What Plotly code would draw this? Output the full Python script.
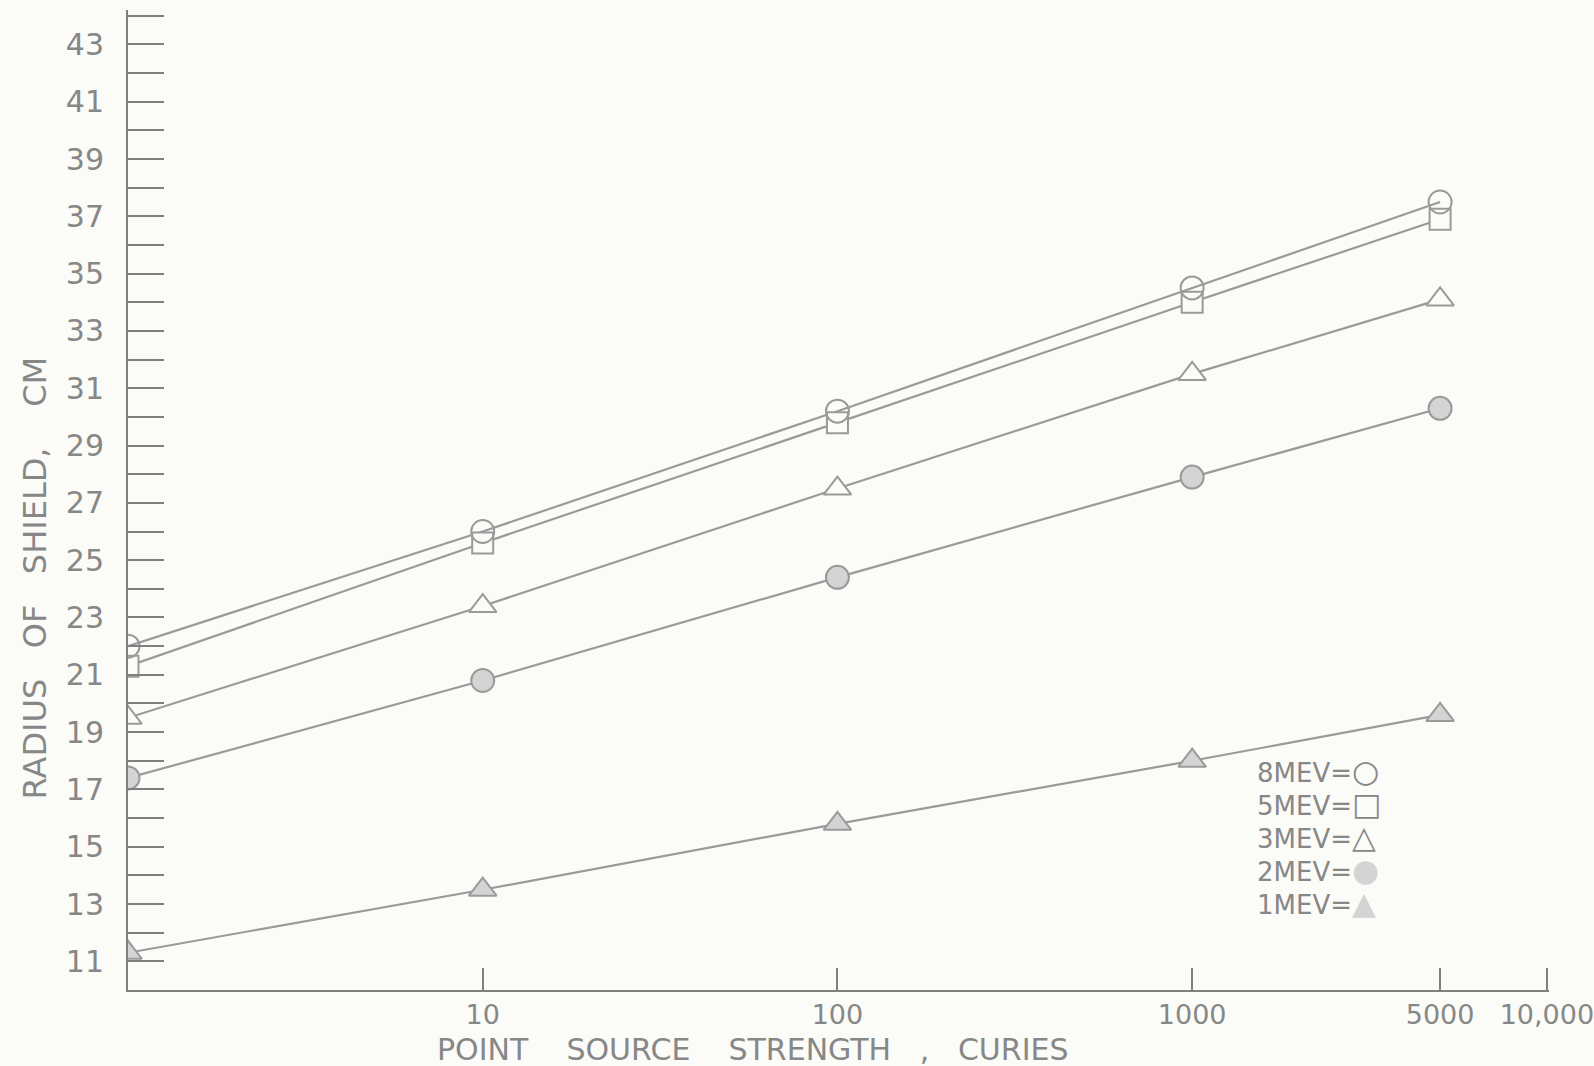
import plotly.graph_objects as go

# ---- data ----
curies = [1, 10, 100, 1000, 5000]
mev8 = [22.0, 26.0, 30.2, 34.5, 37.5]
mev5 = [21.3, 25.6, 29.8, 34.0, 36.9]
mev3 = [19.5, 23.4, 27.5, 31.5, 34.1]
mev2 = [17.4, 20.8, 24.4, 27.9, 30.3]
mev1 = [11.3, 13.5, 15.8, 18.0, 19.6]

x_tickvals = [10, 100, 1000, 5000, 10000]
x_ticktext = ["10", "100", "1000", "5000", "10,000"]
y_tickvals = list(range(11, 45))
y_ticktext = [str(v) if v % 2 == 1 else "" for v in y_tickvals]

legend_labels = ["8MEV=", "5MEV=", "3MEV=", "2MEV=", "1MEV="]
legend_symbols = ["○", "□", "△", "●", "▲"]

# ---- style ----
BG = "#fbfbf8"
LINE = "#9a9a9a"
AX = "#7f7f7f"
TXT = "#878787"
FILL = "#d4d4d4"
FONT = "DejaVu Sans"

fig = go.Figure()

series = [mev8, mev5, mev3, mev2, mev1]
for s in series:
    fig.add_trace(go.Scatter(x=curies, y=s, mode="lines",
                             line=dict(color=LINE, width=2.2),
                             showlegend=False, hoverinfo="skip"))

def mk(s, symbol, fill, size=21):
    fig.add_trace(go.Scatter(x=curies, y=s, mode="markers",
                             marker=dict(symbol=symbol, size=size, color=fill,
                                         line=dict(color=LINE, width=2)),
                             showlegend=False))

mk(mev3, "triangle-up", BG, 24)
mk(mev2, "circle", FILL, 23)
mk(mev1, "triangle-up", FILL, 24)
mk(mev5, "square", BG, 21)
mk(mev8, "circle-open", LINE, 23)

fig.update_xaxes(type="log", range=[0, 4.006], tickvals=x_tickvals, ticktext=x_ticktext,
                 ticks="inside", ticklen=22, tickwidth=2, tickcolor=AX,
                 showline=True, linecolor=AX, linewidth=2, showgrid=False,
                 zeroline=False, ticklabeloverflow="allow", automargin=False,
                 tickfont=dict(family=FONT, size=27, color=TXT))
fig.update_yaxes(range=[10, 44.2], tickvals=y_tickvals, ticktext=y_ticktext,
                 ticks="inside", ticklen=36, tickwidth=2, tickcolor=AX,
                 showline=True, linecolor=AX, linewidth=2, showgrid=False,
                 zeroline=False, ticklabelstandoff=16, automargin=False,
                 tickfont=dict(family=FONT, size=30, color=TXT))

sp = "\u00a0" * 4
annotations = [
    dict(text=f"POINT{sp}SOURCE{sp}STRENGTH\u00a0\u00a0\u00a0,\u00a0\u00a0\u00a0CURIES",
         xref="paper", yref="paper", x=0.44, y=0, yanchor="middle", yshift=-59,
         showarrow=False, font=dict(family=FONT, size=30, color=TXT)),
    dict(text="RADIUS\u00a0\u00a0\u00a0OF\u00a0\u00a0\u00a0SHIELD,\u00a0\u00a0\u00a0\u00a0CM", textangle=-90,
         xref="paper", yref="paper", x=0, xshift=-114, y=0.42,
         showarrow=False, font=dict(family=FONT, size=32, color=TXT)),
]
for i, (lab, sym) in enumerate(zip(legend_labels, legend_symbols)):
    sc = FILL if sym in ("●", "▲") else TXT
    annotations.append(dict(
        text=f"{lab}<span style='color:{sc};font-size:31px'>{sym}</span>",
        xref="paper", yref="paper", x=0.793, xanchor="left",
        y=0.223 - i * 0.0335, yanchor="middle", showarrow=False,
        font=dict(family=FONT, size=26, color=TXT)))

fig.update_layout(width=1594, height=1066, paper_bgcolor=BG, plot_bgcolor=BG,
                  margin=dict(l=128, r=45, t=10, b=76),
                  annotations=annotations, showlegend=False)

fig.write_html("out.html", config={"displayModeBar": False},
               post_script="document.body.style.margin='0';document.body.style.background='#fbfbf8';")
